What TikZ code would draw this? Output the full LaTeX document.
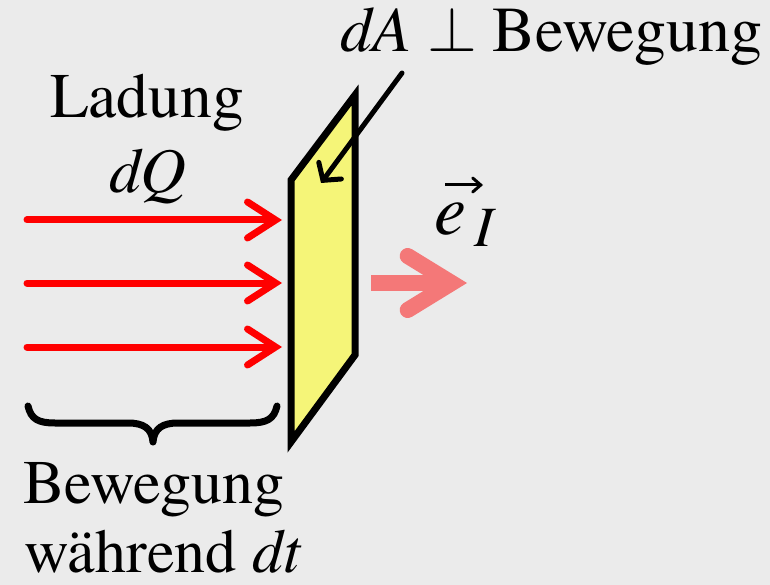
\RequirePackage{fix-cm}
\documentclass[tikz,border=0pt]{standalone}
\usepackage{fontspec}
\setmainfont{TeX Gyre Termes}
\usetikzlibrary{arrows.meta}
\definecolor{bg}{RGB}{235,235,235}
\definecolor{plate}{RGB}{245,245,120}
\definecolor{salmon}{RGB}{244,120,120}
\begin{document}
\begin{tikzpicture}[x=1pt,y=-1pt,
  txt/.style={inner sep=0pt, anchor=base, font=\fontsize{62}{74}\selectfont},
  bigtxt/.style={inner sep=0pt, anchor=base, font=\fontsize{63.5}{74}\selectfont},
  flow/.style={draw=red, line width=7pt, line cap=round,
    -{Straight Barb[length=28pt, width=36pt, line cap=round, line join=miter]}},
  pointer/.style={draw=black, line width=5pt, line cap=round,
    -{Straight Barb[length=12pt, width=28pt, line cap=round, line join=miter]}},
  dirarrow/.style={draw=salmon, line width=16pt,
    -{Straight Barb[length=44pt, width=54pt, line cap=round, line join=miter]}},
  vecarrow/.style={draw=black, line width=3pt,
    -{Straight Barb[length=8pt, width=14pt, line cap=round, line join=miter]}},
  platestyle/.style={draw=black, fill=plate, line width=7pt, line join=miter, miter limit=10},
  bracestyle/.style={draw=black, line width=7pt, line cap=round, line join=round}]
\fill[bg] (0,0) rectangle (770,585);
\useasboundingbox (0,0) rectangle (770,585);

% plate
\draw[platestyle] (291,180) -- (355,95) -- (355,355) -- (291,442) -- cycle;

% red flow arrows
\coordinate (f1s) at (27,220); \coordinate (f1e) at (282,220);
\coordinate (f2s) at (27,283); \coordinate (f2e) at (282,283);
\coordinate (f3s) at (27,347); \coordinate (f3e) at (282,347);
\draw[flow] (f1s) -- (f1e);
\draw[flow] (f2s) -- (f2e);
\draw[flow] (f3s) -- (f3e);

% pointer to dA
\coordinate (ps) at (402,73); \coordinate (pe) at (321,183);
\draw[pointer] (ps) -- (pe);

% direction arrow
\coordinate (ds) at (371,283); \coordinate (de) at (467,283);
\draw[dirarrow] (ds) -- (de);

% brace
\draw[bracestyle] (28,406) .. controls (31,419) and (38,423) .. (55,423)
  -- (128,423) .. controls (143,423) and (152,428) .. (153,442)
  .. controls (154,428) and (163,423) .. (178,423)
  -- (250,423) .. controls (267,423) and (274,419) .. (277,406);

% texts
\node[bigtxt] (lad) at (147,118) {Ladung};
\node[bigtxt] (dq) at (148,193) {\itshape dQ};
\node[txt] (bew) at (154,503) {Bewegung};
\node[txt] (wah) at (163,572) {während \textit{dt}};
\node[txt, anchor=base east, font=\fontsize{64}{74}\selectfont] (perp) at (763,52) {\textit{dA} $\perp$ Bewegung};

\node[inner sep=0pt, anchor=base west, font=\fontsize{72}{80}\selectfont\itshape] (e) at (434,235) {e};
\node[inner sep=0pt, anchor=base west, font=\fontsize{57}{64}\selectfont\itshape] (sub) at (474,247) {I};
\coordinate (vs) at (445,185); \coordinate (ve) at (483,185);
\draw[vecarrow] (vs) -- (ve);
\end{tikzpicture}
\end{document}
